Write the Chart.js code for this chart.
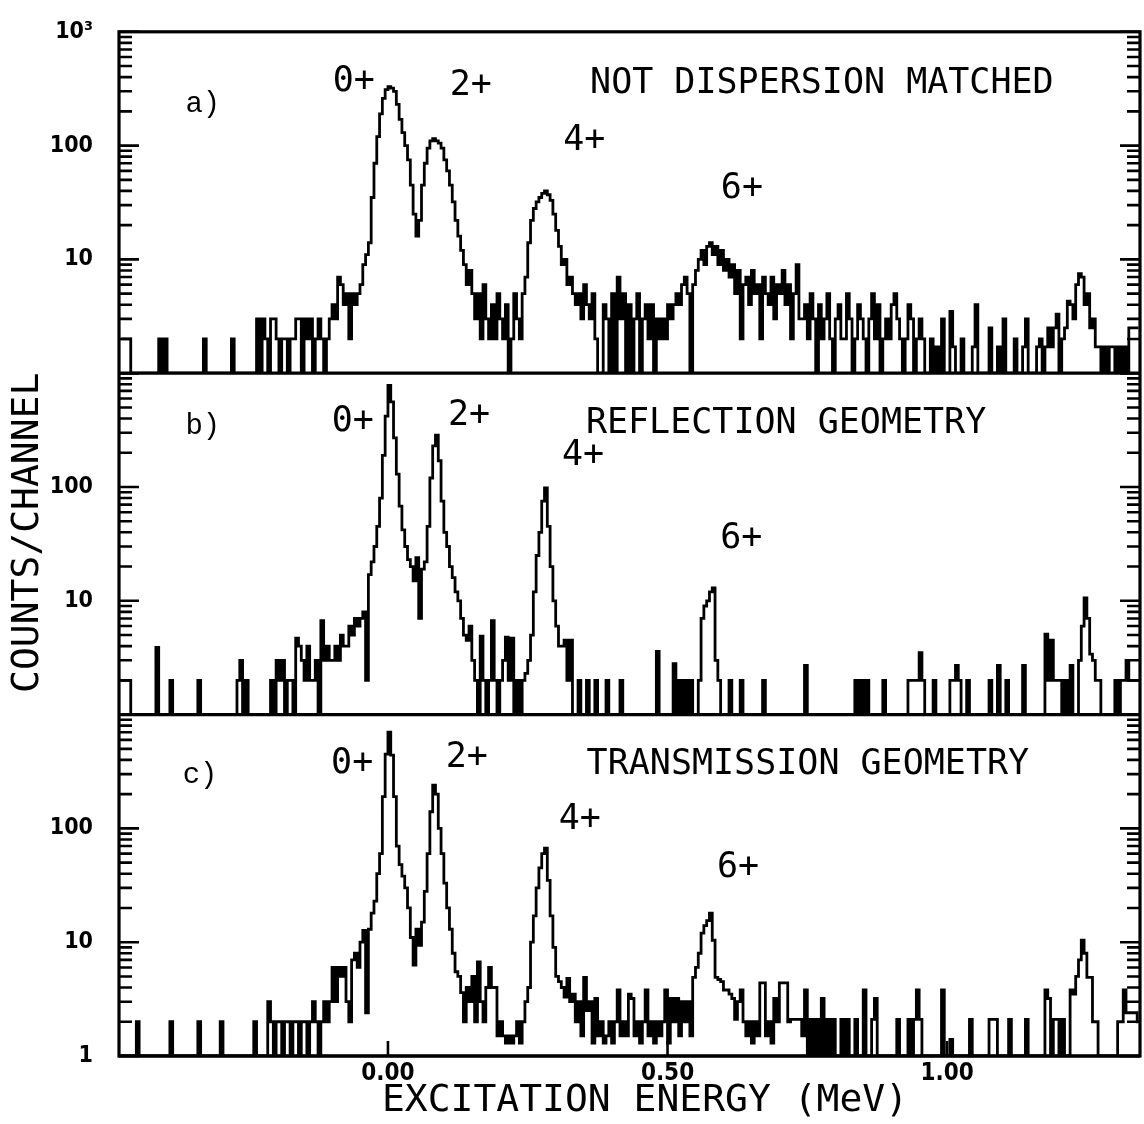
<!DOCTYPE html>
<html>
<head>
<meta charset="utf-8">
<title>Excitation energy spectra</title>
<script src="https://cdn.jsdelivr.net/npm/chart.js@4.4.1/dist/chart.umd.min.js"></script>
<style>
  html, body { margin: 0; padding: 0; background: #fff; }
  #wrap { position: relative; width: 1144px; height: 1124px; }
</style>
</head>
<body>
<div id="wrap"><canvas id="spectra"></canvas></div>
<script>
// channel grid in MeV (centre of first channel, channel width)
const binStart = -0.4775;
const binWidth = 0.005;

// a) not dispersion matched - counts per channel
const countsA = [
  2,2,2,2,1,1,1,1,1,1, 1,1,1,1,2,1,2,1,1,1, 1,1,1,1,1,1,1,1,1,1, 2,1,1,1,1,1,1,1,1,1, 2,1,1,1,1,1,1,1,
  1,3,1,3,2,1,3,3,2,1,2,2,1,2,2,3,3,1,3,2,3,1,2,3,2,1,2,
  3,4,3,7,6,4,5,2,5,4,5,6,
  9,11,14,35,70,120,190,260,310,330,320,300,230,170,130,100,75,45,25,16,22,45,70,95,110,115,110,105,95,75,60,45,32,22,16,12,9,6,8,5,3,
  5,2,6,3,2,4,2,5,3,2,4,1,2,5,3,2,5,
  7,14,22,28,32,35,38,40,37,33,25,18,13,9,10,6,7,5,
  4,5,3,6,4,3,5,2,1,1,4,3,1,5,1,7,3,5,1,4,1,3,5,1,3,4,2,4,1,3,2,3,2,4,3,
  4,5,4,6,7,5,1,6,8,10,12,9,13,14,11,13,9,12,8,10,
  7,9,5,8,2,6,7,4,8,5,6,2,7,5,4,7,3,6,5,8,4,6,2,5,9,3,
  3,4,2,5,3,1,4,2,3,5,2,1,3,4,2,2,5,3,1,2,4,3,2,1,3,5,2,4,1,2,3,2,4,5,3,2,1,2,4,3,1,2,3,2,1,
  1,2,1,1.7,1,3,1,1,3.5,1.7,1,1,2,1,1,1,1.7,4,1,1,1,1,2.5,1,1,1.7,1,3,1,1,1,2,1,1,1.7,3,1,1,1,1.7,2,1,
  1.7,2.5,1.7,2.5,3.3,1,2,2.5,4.3,4,3,6,7.5,7,4,5,2.5,3,1.7,1.7,
  1,1.7,1,1.7,1.7,1,1.7,1,1.7,1,2.5,2.5,2.5,2.5
];

// b) reflection geometry
const countsB = [
  2,2,2,2,1,1,1,1,1,1, 1,1,1,3.9,1,1,1,1,2,1, 1,1,1,1,1,1,1,1,2,1, 1,1,1,1,1,1,1,1,1,1, 1,1,2,3,1,2,1,1,
  1,1,1,1,1,1,
  2,1,3,2,3,1,2,2,1,4.7,4,3,2,4,2,2,3,1,6.7,3,4,3,
  3,4,3,5,4,4,6,5,7,6,7,8,2,
  17,22,30,45,80,190,420,780,560,270,130,68,42,30,23,20,15,24,7,19,22,45,120,230,285,170,75,40,30,20,16,12,10,7,5,4.5,6,3,
  2,1,4.9,2,1,2,6.7,2,1,2,3,4.8,2,4.7,1,2,1,2,
  2.3,3,5,12,25,40,75,98,45,20,10,6,4, 4,4.5,2,4.5,1,1,
  2,1,1,2,1,1,2,1,1,1,2,1, 1,1,1,2,1,1,1,1,1,1,1, 1,1,1,1,1,3.6,1,1,1,1,1,2.8,1,
  2,1,2,1,2,1,1,2,7,9,10,12,13,3,2, 1,1,1,2,1,1,1,2,1,1,1,1,1,1,1,2,1,1,1,1,1,
  1,1,1,1,1,1,1,1,1,2.7,1,1,1, 1,1,1,1,1,1,1,1,1,1,1,1,1,1,2,1,2, 1,2,1,1,1,1,1,2,1,1,1,1,1,1,1,
  1,2,2,2,2,3.5,2,1,1,1,2,1, 1,1,1,1,2,2,2.7,2,1,1,2,1,1,1,1,1,1,1, 2,1,1,2.7,1,1,2,1,1,1,1,1,2.7,1,1,1,1,1,1,1,
  5.1,2,4.5,2,2,2,1,2,1,2.7,1,1,3,6,10.6,7,3.4,3,2,2, 1,1,1,1,1,2,1,2,2,3,2,2,2,2
];

// c) transmission geometry
const countsC = [
  1,1,1,1,1,1,2,1,1,1, 1,1,1,1,1,1,1,1,2,1, 1,1,1,1,1,1,1,1,2,1, 1,1,1,1,1,1,2,1,1,1, 1,1,1,1,1,1,1,1,2,
  1,1,1,1,3,2,1,2,2,1,2,2,1,2,2,1,2,2,1,2,3,2,1,2,3,2,3,
  6,3,6,5,6,3,2,7,8,6,10,12.7,2.4,
  13,18,23,40,60,190,450,700,440,190,70,48,38,30,20,11,6.3,13,9.4,15,28,60,140,240,200,100,60,33,20,13,8,5.5,5,3.6,
  2,4,3,5,2,6.7,3,2,4,6,4,4,1.5,2,1.5,1.3,1.5,1.3,1.5,2,1.3,2,
  3,4,10,17,30,45,60,67,35,17,9,5,4.5,4,
  3.3,4.8,3,3.5,2,3,1.5,4.9,2.5,3,1.3,3.2,1.5,2,1.3,1.5,2,1.3,2,
  3.8,1.5,2,1.5,3.5,3.2,1.5,2,1.3,2,3.8,1.5,2,1.3,2,1.5,2,3.8,1.3,3.2,2,3.2,1.5,3,2,3,1.5,4.9,6,
  8,12,14,15.5,18,10.4,4.9,4.7,4.5,3.8,3.8,3.5,3.2,2.1,3,3.8,2,1.5,2,
  1.3,2,1.5,4.4,4.4,1.5,2,1.3,3.2,2,4.4,4.4,4.4,2,2.1,2.1,2.1,2.1,1.5,
  3.8,1,2.1,1,2.1,1,3.2,1,2.1,1,2.1,1,1,2.1,1,2.1,1,1,2.1,1,1,3.8,1,1,2.1,3.2,1,1,1,1,1,
  1,1,2.1,1,1,1,2.1,1,2.1,3.8,2.1,1,1,1,1,1,1,1,3.8,1,1,1.4,1,1,1,
  1,1,1,2.1,1,1,1,1,1,1,2.1,2.1,2.1,1,1,1,1,2.1,1,1,1,1,1,2.1,1,1,1,1,1,1,
  3.8,3.2,1,2.1,2.1,1,2.1,1,1,3.8,3.5,5,7,10.4,8,4.9,4.9,2,2,1,
  1,1,1,1,1,1,2,2,3.8,2.4,2.4,2.4,2.4,2
];

// axis ticks
const logTicks = [1,2,3,4,5,6,7,8,9,10,20,30,40,50,60,70,80,90,100,200,300,400,500,600,700,800,900,1000];
const labelValuesA = [10, 100, 1000];
const labelTextA = ['10', '100', '10³'];
const labelValuesB = [10, 100];
const labelTextB = ['10', '100'];
const labelValuesC = [1, 10, 100];
const labelTextC = ['1', '10', '100'];
const energyTicks = [0, 0.5, 1.0];

// text inside the panels (energy in MeV, height in counts)
const noteText   = ['a)', '0+', '2+', '4+', '6+', 'NOT DISPERSION MATCHED',
                    'b)', '0+', '2+', '4+', '6+', 'REFLECTION GEOMETRY',
                    'c)', '0+', '2+', '4+', '6+', 'TRANSMISSION GEOMETRY'];
const noteEnergy = [-0.331, -0.061, 0.148, 0.351, 0.633, 0.776,
                    -0.331, -0.063, 0.145, 0.349, 0.632, 0.712,
                    -0.336, -0.064, 0.141, 0.343, 0.626, 0.751];
const noteCount  = [229, 364, 336, 111, 42, 350,
                    343, 372, 420, 187, 35, 357,
                    292, 372, 420, 118, 45, 364];
const notePanel  = ['ya','ya','ya','ya','ya','ya',
                    'yb','yb','yb','yb','yb','yb',
                    'yc','yc','yc','yc','yc','yc'];

const toPoints = counts => counts.map((c, i) => ({x: binStart + binWidth * i, y: c}));

function spectrum(counts, axis) {
  return {
    data: toPoints(counts),
    yAxisID: axis,
    borderColor: '#000',
    borderWidth: 2.8,
    pointRadius: 0,
    stepped: 'middle',
    fill: false
  };
}

function panelAxis(weight, values, texts) {
  return {
    type: 'logarithmic',
    position: 'left',
    stack: 'panels',
    stackWeight: 1,
    weight: weight,
    min: 1,
    max: 1000,
    grid: { display: false },
    border: { display: false },
    afterBuildTicks: s => { s.ticks = logTicks.map(v => ({value: v})); },
    afterFit: s => { s.width = 119; },
    ticks: {
      autoSkip: false,
      padding: 18,
      color: '#000',
      font: { family: 'DejaVu Sans Condensed', weight: 'bold', size: 23 },
      callback: v => {
        const k = values.indexOf(v);
        return k >= 0 ? texts[k] : '';
      }
    }
  };
}

// frame, inward tick marks, notes and axis titles
const framePlugin = {
  id: 'frame',
  afterDraw(chart) {
    const {ctx, chartArea: area, scales} = chart;
    ctx.save();
    ctx.strokeStyle = '#000';
    ctx.lineWidth = 3.2;
    ctx.strokeRect(area.left, area.top, area.right - area.left, area.bottom - area.top);

    ['ya', 'yb', 'yc'].forEach(id => {
      const s = scales[id];
      ctx.lineWidth = 3.2;
      ctx.beginPath();
      ctx.moveTo(area.left, s.bottom);
      ctx.lineTo(area.right, s.bottom);
      ctx.stroke();
      ctx.lineWidth = 2.6;
      s.ticks.forEach(t => {
        const y = s.getPixelForValue(t.value);
        const lg = Math.log10(t.value);
        const major = Math.abs(lg - Math.round(lg)) < 1e-9;
        const len = major ? 20 : 13;
        ctx.beginPath();
        ctx.moveTo(area.left, y);
        ctx.lineTo(area.left + len, y);
        ctx.moveTo(area.right, y);
        ctx.lineTo(area.right - len, y);
        ctx.stroke();
      });
    });

    const xs = scales.x;
    ctx.lineWidth = 2.6;
    energyTicks.forEach(e => {
      const x = xs.getPixelForValue(e);
      ctx.beginPath();
      ctx.moveTo(x, area.bottom);
      ctx.lineTo(x, area.bottom - 15);
      ctx.stroke();
    });

    ctx.fillStyle = '#000';
    ctx.textAlign = 'center';
    ctx.textBaseline = 'middle';
    noteText.forEach((txt, i) => {
      const x = xs.getPixelForValue(noteEnergy[i]);
      const y = scales[notePanel[i]].getPixelForValue(noteCount[i]);
      ctx.font = txt.endsWith(')') ? '29px "Liberation Mono"' : '35px "DejaVu Sans Mono"';
      ctx.fillText(txt, x, y);
    });

    ctx.font = '38px "DejaVu Sans Mono"';
    ctx.fillText('EXCITATION ENERGY (MeV)', area.left + 526, area.bottom + 45);
    ctx.save();
    ctx.translate(28, area.top + 501);
    ctx.rotate(-Math.PI / 2);
    ctx.fillText('COUNTS/CHANNEL', 0, 0);
    ctx.restore();
    ctx.restore();
  }
};

new Chart(document.getElementById('spectra'), {
  type: 'line',
  data: {
    datasets: [
      spectrum(countsA, 'ya'),
      spectrum(countsB, 'yb'),
      spectrum(countsC, 'yc')
    ]
  },
  options: {
    responsive: true,
    maintainAspectRatio: false,
    animation: false,
    devicePixelRatio: 1,
    parsing: false,
    layout: { padding: { top: 31, right: 4, left: 0, bottom: 0 } },
    plugins: { legend: { display: false }, tooltip: { enabled: false } },
    scales: {
      x: {
        type: 'linear',
        min: -0.481,
        max: 1.345,
        grid: { display: false },
        border: { display: false },
        afterBuildTicks: s => { s.ticks = energyTicks.map(v => ({value: v})); },
        afterFit: s => { s.height = 68; },
        ticks: {
          maxRotation: 0,
          padding: -5,
          color: '#000',
          font: { family: 'DejaVu Sans Condensed', weight: 'bold', size: 24 },
          callback: v => v.toFixed(2)
        }
      },
      ya: panelAxis(3, labelValuesA, labelTextA),
      yb: panelAxis(2, labelValuesB, labelTextB),
      yc: panelAxis(1, labelValuesC, labelTextC)
    }
  },
  plugins: [framePlugin]
});
</script>
</body>
</html>
